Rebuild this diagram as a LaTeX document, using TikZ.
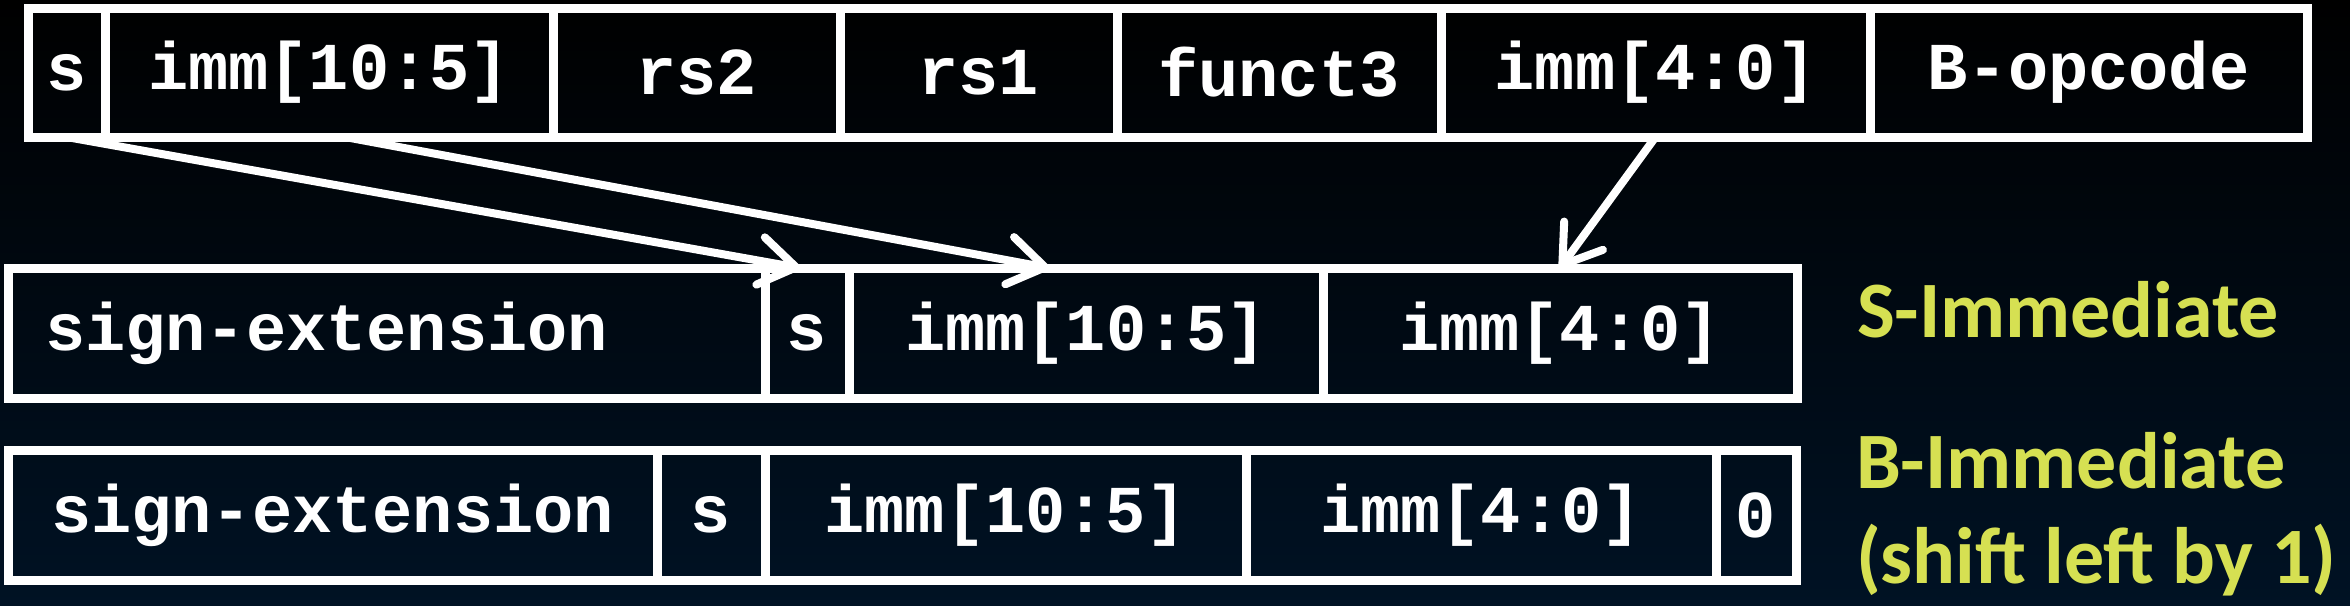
\documentclass[tikz,border=0pt]{standalone}
\usepackage{fontspec}
\setmonofont{Liberation Mono}
\newfontfamily\tagfont{Carlito}
\usetikzlibrary{arrows.meta, positioning}
\definecolor{bgnavy}{RGB}{0,18,36}
\definecolor{tagyellow}{RGB}{214,224,82}

\begin{document}
\begin{tikzpicture}[x=1pt, y=1pt]
    \tikzstyle{field} = [rectangle, draw=white, line width=9pt, minimum height=130pt, inner sep=0pt, outer sep=0pt, text=white, text centered, font=\ttfamily\bfseries\fontsize{67pt}{80pt}\selectfont]
    \tikzstyle{tag} = [inner sep=0pt, outer sep=0pt, text=tagyellow, font=\tagfont\bfseries\fontsize{80pt}{95pt}\selectfont]
    \tikzstyle{arrow} = [white, line width=8pt, -{Straight Barb[length=36pt, width=48pt, round]}]

    % background
    \shade [top color=black, middle color=black!85!bgnavy, bottom color=bgnavy] (0,0) rectangle (2350,-605);
    \useasboundingbox (0,0) rectangle (2350,-605);

    % instruction word
    \node (ts) [field, minimum width=77pt, minimum height=129pt] at (66.5,-72.5) {s};
    \node (timmhi) [field, minimum width=448pt, minimum height=129pt, right=0pt of ts] {imm[10:5]};
    \node (trstwo) [field, minimum width=287pt, minimum height=129pt, right=0pt of timmhi] {rs2};
    \node (trsone) [field, minimum width=277pt, minimum height=129pt, right=0pt of trstwo] {rs1};
    \node (tfunct) [field, minimum width=324pt, minimum height=129pt, right=0pt of trsone] {funct3};
    \node (timmlo) [field, minimum width=429pt, minimum height=129pt, right=0pt of tfunct] {imm[4:0]};
    \node (topcode) [field, minimum width=437pt, minimum height=129pt, right=0pt of timmlo] {B-opcode};

    % S-immediate
    \node (ssign) [field, minimum width=757pt, text width=683pt, inner xsep=37pt, align=left] at (386.5,-333) {sign-extension};
    \node (ss) [field, minimum width=84pt, right=0pt of ssign] {s};
    \node (simmhi) [field, minimum width=474pt, right=0pt of ss] {imm[10:5]};
    \node (simmlo) [field, minimum width=474pt, right=0pt of simmhi] {imm[4:0]};

    % B-immediate
    \node (bsign) [field, minimum width=649pt] at (332.5,-515) {sign-extension};
    \node (bs) [field, minimum width=108pt, right=0pt of bsign] {s};
    \node (bimmhi) [field, minimum width=481pt, right=0pt of bs] {imm[10:5]};
    \node (bimmlo) [field, minimum width=470pt, right=0pt of bimmhi] {imm[4:0]};
    \node (bzero) [field, minimum width=80pt, right=0pt of bimmlo] {0};

    \node (slabel) [tag, anchor=base west] at ([xshift=60pt, yshift=-4pt]simmlo.east) {S-Immediate};
    \node (blabel) [tag, anchor=north west, align=left] at ([xshift=60pt, yshift=18pt]bzero.north east) {B-Immediate\\(shift left by 1)};

    % Arrows
    \draw [arrow] (ts.south) -- ([xshift=-7pt]ss.north);
    \draw [arrow] ([xshift=16pt]timmhi.south) -- ([xshift=-37pt]simmhi.north);
    \draw [arrow] (timmlo.south) -- (simmlo.north);
\end{tikzpicture}
\end{document}
